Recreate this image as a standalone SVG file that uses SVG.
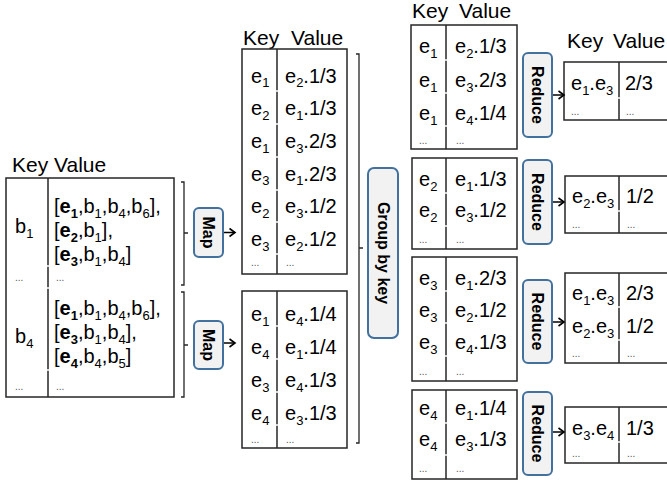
<svg xmlns="http://www.w3.org/2000/svg" width="667" height="483" viewBox="0 0 667 483">
<style>
.tx{font-family:"Liberation Sans",Arial,sans-serif;font-size:20px;fill:#000}
.hd{font-family:"Liberation Sans",Arial,sans-serif;font-size:21px;fill:#000}
.s{font-size:13px}
.b{font-weight:bold}
.el{font-family:"Liberation Sans",Arial,sans-serif;font-size:10px;fill:#555}
.cell{fill:#fff;stroke:#262626;stroke-width:1.5}
.dv{stroke:#262626;stroke-width:1.5}
.gap{stroke:#fff;stroke-width:1.5}
.br{fill:none;stroke:#262626;stroke-width:1.3}
.op{fill:#f2f2f2;stroke:#41719c;stroke-width:2}
.opt{font-family:"Liberation Sans",Arial,sans-serif;font-weight:bold;font-size:16px;text-anchor:middle;dominant-baseline:central;fill:#000}
.ar{stroke:#000;stroke-width:1.5;fill:none;marker-end:url(#ah)}
</style>
<defs>
<marker id="ah" markerUnits="userSpaceOnUse" markerWidth="9" markerHeight="11" refX="7" refY="5.5" orient="auto">
<path d="M1.5,1.5 L7,5.5 L1.5,9.5" fill="none" stroke="#000" stroke-width="1.6"/>
</marker>
</defs>
<rect width="667" height="483" fill="#fff"/>

<!-- Left input table -->
<g id="input-table">
<text class="hd" x="12" y="172">Key Value</text>
<rect class="cell" x="6" y="178" width="168" height="219"/>
<line class="dv" x1="48" y1="178" x2="48" y2="397"/>
<line class="gap" x1="46.5" y1="266" x2="49.5" y2="266"/>
<line class="gap" x1="46.5" y1="288" x2="49.5" y2="288"/>
<line class="gap" x1="46.5" y1="370" x2="49.5" y2="370"/>
<text class="tx" x="15" y="233">b<tspan class="s" dy="4.5">1</tspan></text>
<text class="tx" x="54" y="213">[<tspan class="b">e</tspan><tspan class="s b" dy="4.5">1</tspan><tspan dy="-4.5">,b</tspan><tspan class="s" dy="4.5">1</tspan><tspan dy="-4.5">,b</tspan><tspan class="s" dy="4.5">4</tspan><tspan dy="-4.5">,b</tspan><tspan class="s" dy="4.5">6</tspan><tspan dy="-4.5">],</tspan></text>
<text class="tx" x="54" y="237">[<tspan class="b">e</tspan><tspan class="s b" dy="4.5">2</tspan><tspan dy="-4.5">,b</tspan><tspan class="s" dy="4.5">1</tspan><tspan dy="-4.5">],</tspan></text>
<text class="tx" x="54" y="261">[<tspan class="b">e</tspan><tspan class="s b" dy="4.5">3</tspan><tspan dy="-4.5">,b</tspan><tspan class="s" dy="4.5">1</tspan><tspan dy="-4.5">,b</tspan><tspan class="s" dy="4.5">4</tspan><tspan dy="-4.5">]</tspan></text>
<text class="el" x="15" y="281">...</text>
<text class="el" x="56" y="281">...</text>
<text class="tx" x="15" y="343">b<tspan class="s" dy="4.5">4</tspan></text>
<text class="tx" x="54" y="315">[<tspan class="b">e</tspan><tspan class="s b" dy="4.5">1</tspan><tspan dy="-4.5">,b</tspan><tspan class="s" dy="4.5">1</tspan><tspan dy="-4.5">,b</tspan><tspan class="s" dy="4.5">4</tspan><tspan dy="-4.5">,b</tspan><tspan class="s" dy="4.5">6</tspan><tspan dy="-4.5">],</tspan></text>
<text class="tx" x="54" y="339">[<tspan class="b">e</tspan><tspan class="s b" dy="4.5">3</tspan><tspan dy="-4.5">,b</tspan><tspan class="s" dy="4.5">1</tspan><tspan dy="-4.5">,b</tspan><tspan class="s" dy="4.5">4</tspan><tspan dy="-4.5">],</tspan></text>
<text class="tx" x="54" y="363">[<tspan class="b">e</tspan><tspan class="s b" dy="4.5">4</tspan><tspan dy="-4.5">,b</tspan><tspan class="s" dy="4.5">4</tspan><tspan dy="-4.5">,b</tspan><tspan class="s" dy="4.5">5</tspan><tspan dy="-4.5">]</tspan></text>
<text class="el" x="15" y="390">...</text>
<text class="el" x="56" y="390">...</text>
</g>

<!-- Map operators -->
<g id="map1">
<rect class="op" x="194" y="208" width="29" height="49" rx="5"/>
<text class="opt" transform="translate(208.5,232.5) rotate(90)">Map</text>
</g>
<g id="map2">
<rect class="op" x="194" y="321" width="29" height="48" rx="5"/>
<text class="opt" transform="translate(208.5,345) rotate(90)">Map</text>
</g>

<!-- Middle table 1 -->
<g id="map-out-1">
<text class="hd" x="243" y="45">Key</text>
<text class="hd" x="291" y="45">Value</text>
<rect class="cell" x="242" y="49" width="105" height="225"/>
<line class="dv" x1="277" y1="49" x2="277" y2="274"/>
<line class="gap" x1="275.5" y1="91" x2="278.5" y2="91"/>
<line class="gap" x1="275.5" y1="124" x2="278.5" y2="124"/>
<line class="gap" x1="275.5" y1="157" x2="278.5" y2="157"/>
<line class="gap" x1="275.5" y1="190" x2="278.5" y2="190"/>
<line class="gap" x1="275.5" y1="222" x2="278.5" y2="222"/>
<line class="gap" x1="275.5" y1="254" x2="278.5" y2="254"/>
<text class="tx" x="251" y="82.5">e<tspan class="s" dy="4.5">1</tspan></text>
<text class="tx" x="285" y="82.5">e<tspan class="s" dy="4.5">2</tspan><tspan dy="-4.5">.1/3</tspan></text>
<text class="tx" x="251" y="115">e<tspan class="s" dy="4.5">2</tspan></text>
<text class="tx" x="285" y="115">e<tspan class="s" dy="4.5">1</tspan><tspan dy="-4.5">.1/3</tspan></text>
<text class="tx" x="251" y="148">e<tspan class="s" dy="4.5">1</tspan></text>
<text class="tx" x="285" y="148">e<tspan class="s" dy="4.5">3</tspan><tspan dy="-4.5">.2/3</tspan></text>
<text class="tx" x="251" y="180.5">e<tspan class="s" dy="4.5">3</tspan></text>
<text class="tx" x="285" y="180.5">e<tspan class="s" dy="4.5">1</tspan><tspan dy="-4.5">.2/3</tspan></text>
<text class="tx" x="251" y="213">e<tspan class="s" dy="4.5">2</tspan></text>
<text class="tx" x="285" y="213">e<tspan class="s" dy="4.5">3</tspan><tspan dy="-4.5">.1/2</tspan></text>
<text class="tx" x="251" y="246">e<tspan class="s" dy="4.5">3</tspan></text>
<text class="tx" x="285" y="246">e<tspan class="s" dy="4.5">2</tspan><tspan dy="-4.5">.1/2</tspan></text>
<text class="el" x="251" y="266">...</text>
<text class="el" x="286" y="266">...</text>
</g>

<!-- Middle table 2 -->
<g id="map-out-2">
<rect class="cell" x="242" y="291" width="105" height="157"/>
<line class="dv" x1="277" y1="291" x2="277" y2="448"/>
<line class="gap" x1="275.5" y1="326" x2="278.5" y2="326"/>
<line class="gap" x1="275.5" y1="359" x2="278.5" y2="359"/>
<line class="gap" x1="275.5" y1="392" x2="278.5" y2="392"/>
<line class="gap" x1="275.5" y1="425" x2="278.5" y2="425"/>
<text class="tx" x="251" y="321">e<tspan class="s" dy="4.5">1</tspan></text>
<text class="tx" x="285" y="321">e<tspan class="s" dy="4.5">4</tspan><tspan dy="-4.5">.1/4</tspan></text>
<text class="tx" x="251" y="354">e<tspan class="s" dy="4.5">4</tspan></text>
<text class="tx" x="285" y="354">e<tspan class="s" dy="4.5">1</tspan><tspan dy="-4.5">.1/4</tspan></text>
<text class="tx" x="251" y="387">e<tspan class="s" dy="4.5">3</tspan></text>
<text class="tx" x="285" y="387">e<tspan class="s" dy="4.5">4</tspan><tspan dy="-4.5">.1/3</tspan></text>
<text class="tx" x="251" y="420">e<tspan class="s" dy="4.5">4</tspan></text>
<text class="tx" x="285" y="420">e<tspan class="s" dy="4.5">3</tspan><tspan dy="-4.5">.1/3</tspan></text>
<text class="el" x="251" y="443">...</text>
<text class="el" x="286" y="443">...</text>
</g>

<!-- Group by key -->
<g id="group-by-key">
<rect class="op" x="368" y="168" width="30" height="170" rx="6"/>
<text class="opt" transform="translate(383.5,253) rotate(90)">Group by key</text>
</g>

<!-- Grouped table A -->
<g id="group-e1">
<text class="hd" x="412" y="18">Key</text>
<text class="hd" x="459" y="18">Value</text>
<rect class="cell" x="411" y="25" width="106" height="124"/>
<line class="dv" x1="446" y1="25" x2="446" y2="149"/>
<line class="gap" x1="444.5" y1="60" x2="447.5" y2="60"/>
<line class="gap" x1="444.5" y1="93" x2="447.5" y2="93"/>
<line class="gap" x1="444.5" y1="126" x2="447.5" y2="126"/>
<text class="tx" x="419" y="53">e<tspan class="s" dy="4.5">1</tspan></text>
<text class="tx" x="455" y="53">e<tspan class="s" dy="4.5">2</tspan><tspan dy="-4.5">.1/3</tspan></text>
<text class="tx" x="419" y="87">e<tspan class="s" dy="4.5">1</tspan></text>
<text class="tx" x="455" y="87">e<tspan class="s" dy="4.5">3</tspan><tspan dy="-4.5">.2/3</tspan></text>
<text class="tx" x="419" y="120">e<tspan class="s" dy="4.5">1</tspan></text>
<text class="tx" x="455" y="120">e<tspan class="s" dy="4.5">4</tspan><tspan dy="-4.5">.1/4</tspan></text>
<text class="el" x="419" y="144">...</text>
<text class="el" x="456" y="144">...</text>
</g>
<g id="reduce1">
<rect class="op" x="523" y="53" width="29" height="84" rx="5"/>
<text class="opt" transform="translate(537.5,95) rotate(90)">Reduce</text>
</g>
<g id="result-1">
<text class="hd" x="567" y="48">Key</text>
<text class="hd" x="613" y="48">Value</text>
<rect class="cell" x="564" y="62" width="110" height="58"/>
<line class="dv" x1="619" y1="62" x2="619" y2="120"/>
<line class="gap" x1="617.5" y1="98" x2="620.5" y2="98"/>
<text class="tx" x="571" y="90">e<tspan class="s" dy="4.5">1</tspan><tspan dy="-4.5">.e</tspan><tspan class="s" dy="4.5">3</tspan></text>
<text class="tx" x="625" y="90">2/3</text>
<text class="el" x="571" y="115">...</text>
<text class="el" x="626" y="115">...</text>
</g>

<!-- Grouped table B -->
<g id="group-e2">
<rect class="cell" x="412" y="158" width="105" height="91"/>
<line class="dv" x1="446" y1="158" x2="446" y2="249"/>
<line class="gap" x1="444.5" y1="193" x2="447.5" y2="193"/>
<line class="gap" x1="444.5" y1="226" x2="447.5" y2="226"/>
<text class="tx" x="419" y="186">e<tspan class="s" dy="4.5">2</tspan></text>
<text class="tx" x="455" y="186">e<tspan class="s" dy="4.5">1</tspan><tspan dy="-4.5">.1/3</tspan></text>
<text class="tx" x="419" y="217">e<tspan class="s" dy="4.5">2</tspan></text>
<text class="tx" x="455" y="217">e<tspan class="s" dy="4.5">3</tspan><tspan dy="-4.5">.1/2</tspan></text>
<text class="el" x="419" y="243">...</text>
<text class="el" x="456" y="243">...</text>
</g>
<g id="reduce2">
<rect class="op" x="523" y="160" width="29" height="84" rx="5"/>
<text class="opt" transform="translate(537.5,202) rotate(90)">Reduce</text>
</g>
<g id="result-2">
<rect class="cell" x="565" y="176" width="110" height="57"/>
<line class="dv" x1="619" y1="176" x2="619" y2="233"/>
<line class="gap" x1="617.5" y1="211" x2="620.5" y2="211"/>
<text class="tx" x="572" y="203">e<tspan class="s" dy="4.5">2</tspan><tspan dy="-4.5">.e</tspan><tspan class="s" dy="4.5">3</tspan></text>
<text class="tx" x="626" y="203">1/2</text>
<text class="el" x="572" y="228">...</text>
<text class="el" x="627" y="228">...</text>
</g>

<!-- Grouped table C -->
<g id="group-e3">
<rect class="cell" x="412" y="257" width="105" height="124"/>
<line class="dv" x1="446" y1="257" x2="446" y2="381"/>
<line class="gap" x1="444.5" y1="291" x2="447.5" y2="291"/>
<line class="gap" x1="444.5" y1="323" x2="447.5" y2="323"/>
<line class="gap" x1="444.5" y1="356" x2="447.5" y2="356"/>
<text class="tx" x="419" y="285">e<tspan class="s" dy="4.5">3</tspan></text>
<text class="tx" x="455" y="285">e<tspan class="s" dy="4.5">1</tspan><tspan dy="-4.5">.2/3</tspan></text>
<text class="tx" x="419" y="317">e<tspan class="s" dy="4.5">3</tspan></text>
<text class="tx" x="455" y="317">e<tspan class="s" dy="4.5">2</tspan><tspan dy="-4.5">.1/2</tspan></text>
<text class="tx" x="419" y="349">e<tspan class="s" dy="4.5">3</tspan></text>
<text class="tx" x="455" y="349">e<tspan class="s" dy="4.5">4</tspan><tspan dy="-4.5">.1/3</tspan></text>
<text class="el" x="419" y="375">...</text>
<text class="el" x="456" y="375">...</text>
</g>
<g id="reduce3">
<rect class="op" x="523" y="280" width="29" height="83" rx="5"/>
<text class="opt" transform="translate(537.5,321.5) rotate(90)">Reduce</text>
</g>
<g id="result-3">
<rect class="cell" x="565" y="273" width="110" height="90"/>
<line class="dv" x1="619" y1="273" x2="619" y2="363"/>
<line class="gap" x1="617.5" y1="307" x2="620.5" y2="307"/>
<line class="gap" x1="617.5" y1="340" x2="620.5" y2="340"/>
<text class="tx" x="572" y="300">e<tspan class="s" dy="4.5">1</tspan><tspan dy="-4.5">.e</tspan><tspan class="s" dy="4.5">3</tspan></text>
<text class="tx" x="626" y="300">2/3</text>
<text class="tx" x="572" y="333">e<tspan class="s" dy="4.5">2</tspan><tspan dy="-4.5">.e</tspan><tspan class="s" dy="4.5">3</tspan></text>
<text class="tx" x="626" y="333">1/2</text>
<text class="el" x="572" y="357">...</text>
<text class="el" x="627" y="357">...</text>
</g>

<!-- Grouped table D -->
<g id="group-e4">
<rect class="cell" x="412" y="390" width="105" height="89"/>
<line class="dv" x1="446" y1="390" x2="446" y2="479"/>
<line class="gap" x1="444.5" y1="423" x2="447.5" y2="423"/>
<line class="gap" x1="444.5" y1="455" x2="447.5" y2="455"/>
<text class="tx" x="419" y="415">e<tspan class="s" dy="4.5">4</tspan></text>
<text class="tx" x="455" y="415">e<tspan class="s" dy="4.5">1</tspan><tspan dy="-4.5">.1/4</tspan></text>
<text class="tx" x="419" y="446">e<tspan class="s" dy="4.5">4</tspan></text>
<text class="tx" x="455" y="446">e<tspan class="s" dy="4.5">3</tspan><tspan dy="-4.5">.1/3</tspan></text>
<text class="el" x="419" y="472">...</text>
<text class="el" x="456" y="472">...</text>
</g>
<g id="reduce4">
<rect class="op" x="523" y="392" width="29" height="83" rx="5"/>
<text class="opt" transform="translate(537.5,433.5) rotate(90)">Reduce</text>
</g>
<g id="result-4">
<rect class="cell" x="565" y="407" width="110" height="56"/>
<line class="dv" x1="619" y1="407" x2="619" y2="463"/>
<line class="gap" x1="617.5" y1="442" x2="620.5" y2="442"/>
<text class="tx" x="572" y="435">e<tspan class="s" dy="4.5">3</tspan><tspan dy="-4.5">.e</tspan><tspan class="s" dy="4.5">4</tspan></text>
<text class="tx" x="626" y="435">1/3</text>
<text class="el" x="572" y="457">...</text>
<text class="el" x="627" y="457">...</text>
</g>

<!-- Connectors: brackets and arrows -->
<g id="connectors">
<path class="br" d="M181,182 H184 V285 H181 M184,233 H188"/>
<path class="br" d="M181,292 H184 V397 H181 M184,345 H188"/>
<path class="br" d="M356,54 H359 V443 H356 M359,248 H363"/>
<line class="ar" x1="224" y1="232.5" x2="235" y2="232.5"/>
<line class="ar" x1="224" y1="343" x2="235" y2="343"/>
<line class="ar" x1="553" y1="95" x2="564" y2="95"/>
<line class="ar" x1="553" y1="202" x2="564" y2="202"/>
<line class="ar" x1="553" y1="322" x2="564" y2="322"/>
<line class="ar" x1="553" y1="432" x2="564" y2="432"/>
</g>
</svg>
